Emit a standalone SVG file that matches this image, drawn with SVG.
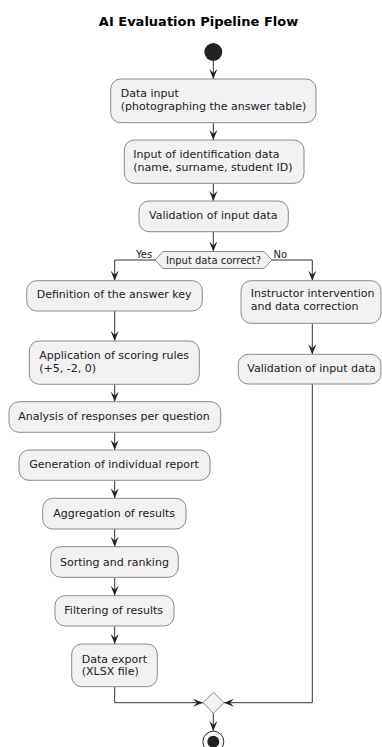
<svg xmlns="http://www.w3.org/2000/svg" width="382" height="747" viewBox="0 0 382 747">
<defs>
<style>
.box{fill:#F1F1F1;stroke:#8a8a8a;stroke-width:1}
.t{font-family:"DejaVu Sans",sans-serif;font-size:11px;fill:#222}
.s{font-family:"DejaVu Sans",sans-serif;font-size:10px;fill:#222}
.ttl{font-family:"DejaVu Sans",sans-serif;font-size:13px;font-weight:bold;fill:#000}
.ln{fill:none;stroke:#333;stroke-width:1}
</style>
<marker id="ah" viewBox="0 0 10 8" refX="10" refY="4" markerWidth="10" markerHeight="8" markerUnits="userSpaceOnUse" orient="auto">
<path d="M0,0 L10,4 L0,8 L4,4 Z" fill="#222"/>
</marker>
</defs>
<rect width="382" height="747" fill="#fff"/>
<text class="ttl" x="198.5" y="26" text-anchor="middle">AI Evaluation Pipeline Flow</text>

<g id="connectors">
<line class="ln" x1="213.3" y1="61" x2="213.3" y2="79" marker-end="url(#ah)"/>
<line class="ln" x1="213.3" y1="122.7" x2="213.3" y2="140" marker-end="url(#ah)"/>
<line class="ln" x1="213.3" y1="183.3" x2="213.3" y2="201" marker-end="url(#ah)"/>
<line class="ln" x1="213.3" y1="231.7" x2="213.3" y2="251.5" marker-end="url(#ah)"/>
<polyline class="ln" points="155,260 114.7,260 114.7,280.7" marker-end="url(#ah)"/>
<polyline class="ln" points="272,260 312.3,260 312.3,280.7" marker-end="url(#ah)"/>
<line class="ln" x1="114.7" y1="311" x2="114.7" y2="341" marker-end="url(#ah)"/>
<line class="ln" x1="114.7" y1="384.3" x2="114.7" y2="401.7" marker-end="url(#ah)"/>
<line class="ln" x1="114.7" y1="432.3" x2="114.7" y2="450" marker-end="url(#ah)"/>
<line class="ln" x1="114.7" y1="480.3" x2="114.7" y2="498.3" marker-end="url(#ah)"/>
<line class="ln" x1="114.7" y1="529" x2="114.7" y2="546.7" marker-end="url(#ah)"/>
<line class="ln" x1="114.7" y1="577.3" x2="114.7" y2="595.7" marker-end="url(#ah)"/>
<line class="ln" x1="114.7" y1="626" x2="114.7" y2="644" marker-end="url(#ah)"/>
<polyline class="ln" points="114.7,686.7 114.7,702.7 203,702.7" marker-end="url(#ah)"/>
<line class="ln" x1="312.3" y1="323.3" x2="312.3" y2="354.3" marker-end="url(#ah)"/>
<polyline class="ln" points="312.3,384 312.3,702.7 224,702.7" marker-end="url(#ah)"/>
<line class="ln" x1="213.3" y1="713.3" x2="213.3" y2="731" marker-end="url(#ah)"/>
</g>

<g id="start"><circle cx="213.3" cy="52" r="9" fill="#222"/></g>

<g id="n1"><rect class="box" x="110.7" y="79" width="205.3" height="43.7" rx="10"/>
<text class="t" x="120.7" y="97">Data input</text><text class="t" x="120.7" y="110">(photographing the answer table)</text></g>

<g id="n2"><rect class="box" x="124.3" y="140" width="179.7" height="43.3" rx="10"/>
<text class="t" x="133.3" y="158.3">Input of identification data</text><text class="t" x="133.3" y="170.7">(name, surname, student ID)</text></g>

<g id="n3"><rect class="box" x="139" y="201" width="149.3" height="30.7" rx="10"/>
<text class="t" x="149" y="219.3">Validation of input data</text></g>

<g id="decision"><polygon class="box" points="155,260 163,251.5 264,251.5 272,260 264,268.5 163,268.5"/>
<text class="s" x="213.5" y="263.5" text-anchor="middle">Input data correct?</text>
<text class="s" x="136" y="257.5">Yes</text><text class="s" x="273.5" y="257.5">No</text></g>

<g id="n4"><rect class="box" x="26.7" y="280.7" width="175.6" height="30.3" rx="10"/>
<text class="t" x="36.7" y="298.3">Definition of the answer key</text></g>

<g id="n5"><rect class="box" x="29.3" y="341" width="170" height="43.3" rx="10"/>
<text class="t" x="39.3" y="359.3">Application of scoring rules</text><text class="t" x="39.3" y="371.7">(+5, -2, 0)</text></g>

<g id="n6"><rect class="box" x="9" y="401.7" width="211.7" height="30.6" rx="10"/>
<text class="t" x="18.3" y="420">Analysis of responses per question</text></g>

<g id="n7"><rect class="box" x="19" y="450" width="191" height="30.3" rx="10"/>
<text class="t" x="29.3" y="468.3">Generation of individual report</text></g>

<g id="n8"><rect class="box" x="42.7" y="498.3" width="143.3" height="30.7" rx="10"/>
<text class="t" x="53.3" y="517.3">Aggregation of results</text></g>

<g id="n9"><rect class="box" x="50.7" y="546.7" width="127.6" height="30.6" rx="10"/>
<text class="t" x="60" y="566">Sorting and ranking</text></g>

<g id="n10"><rect class="box" x="55" y="595.7" width="119" height="30.3" rx="10"/>
<text class="t" x="64.3" y="614.3">Filtering of results</text></g>

<g id="n11"><rect class="box" x="71.7" y="644" width="85.6" height="42.7" rx="10"/>
<text class="t" x="81.7" y="662.7">Data export</text><text class="t" x="81.7" y="675">(XLSX file)</text></g>

<g id="n12"><rect class="box" x="241" y="280.7" width="140" height="42.6" rx="10"/>
<text class="t" x="250.7" y="297.3">Instructor intervention</text><text class="t" x="250.7" y="310">and data correction</text></g>

<g id="n13"><rect class="box" x="238.3" y="354.3" width="142.7" height="29.7" rx="10"/>
<text class="t" x="247.3" y="371.7">Validation of input data</text></g>

<g id="merge"><polygon class="box" points="213.5,692.3 224,702.7 213.5,713.3 203,702.7"/></g>

<g id="end"><circle cx="213.3" cy="741.7" r="10.5" fill="#fff" stroke="#222" stroke-width="1"/><circle cx="213.3" cy="741.7" r="6" fill="#222"/></g>
</svg>
